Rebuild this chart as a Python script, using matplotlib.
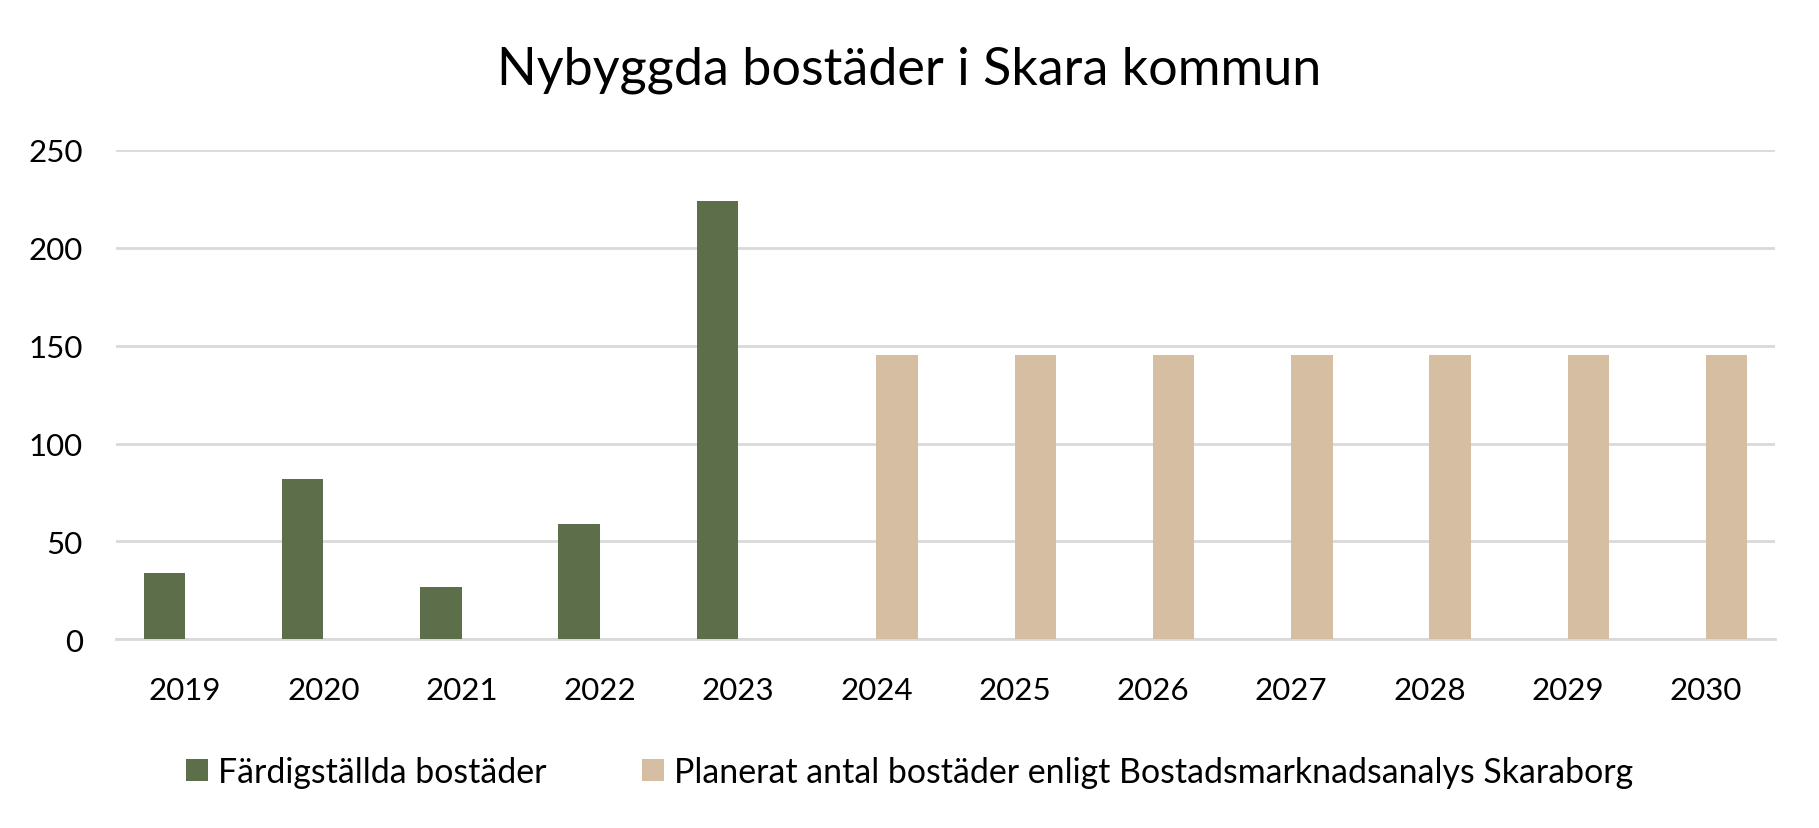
import matplotlib
matplotlib.use("Agg")
import matplotlib.pyplot as plt
import numpy as np

years = ["2019", "2020", "2021", "2022", "2023", "2024", "2025", "2026", "2027", "2028", "2029", "2030"]
completed = [34, 82, 27, 59, 224, 0, 0, 0, 0, 0, 0, 0]
planned = [0, 0, 0, 0, 0, 145, 145, 145, 145, 145, 145, 145]
series_names = ["Färdigställda bostäder",
                "Planerat antal bostäder enligt Bostadsmarknadsanalys Skaraborg"]
title = "Nybyggda bostäder i Skara kommun"
yticks = [0, 50, 100, 150, 200, 250]

green = "#5C6F4A"
tan = "#D5BEA2"
grid = "#D9D9D9"

plt.rcParams['font.family'] = ['Lato', 'DejaVu Sans']

W, H = 1819, 829
fig = plt.figure(figsize=(W / 100, H / 100), dpi=100)
ax = fig.add_axes([116 / W, 1 - 640.4 / H, (1775 - 116) / W, (640.4 - 150.8) / H])

x = np.arange(len(years))
w = 0.30
b1 = ax.bar(x - w / 2, completed, width=w, color=green, label=series_names[0], zorder=3)
b2 = ax.bar(x + w / 2, planned, width=w, color=tan, label=series_names[1], zorder=3)

ax.set_xlim(-0.5, len(years) - 0.5)
ax.set_ylim(0, 250)
ax.set_yticks(yticks)
ax.set_xticks(x)
ax.set_xticklabels(years)
ax.yaxis.grid(True, color=grid, linewidth=2)
ax.set_axisbelow(True)
for s in ["top", "right", "left"]:
    ax.spines[s].set_visible(False)
ax.spines["bottom"].set_color(grid)
ax.spines["bottom"].set_linewidth(2)
ax.tick_params(axis="both", length=0, labelsize=22.5, colors="#000000")
ax.tick_params(axis="y", pad=24)
ax.tick_params(axis="x", pad=26)

fig.text(0.5, 1 - 70 / H, title, ha="center", va="center", fontsize=37.5)

fig.legend(handles=[b1, b2], loc="center", bbox_to_anchor=(0.5, 1 - 773 / H),
           ncol=2, frameon=False, fontsize=24.4, handlelength=0.65, handleheight=0.65,
           handletextpad=0.3, columnspacing=2.8)

fig.savefig("out.png", dpi=100, facecolor="white")
